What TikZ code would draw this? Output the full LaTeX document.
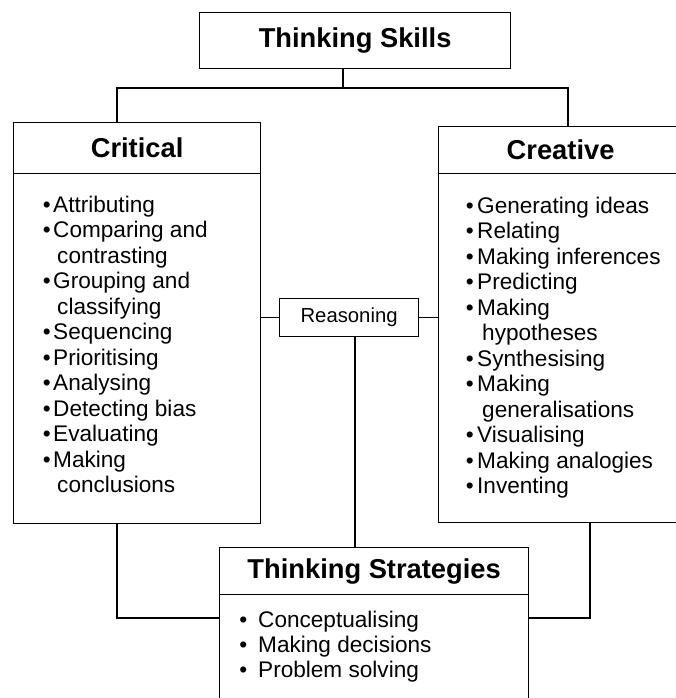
\documentclass[tikz,border=0pt]{standalone}
\usepackage{fontspec}
\setmainfont{Liberation Sans}
\begin{document}
\begin{tikzpicture}[x=1pt,y=-1pt,
  box/.style={draw=black, line width=1.2pt, inner sep=0pt, anchor=north west},
  conn/.style={draw=black, line width=1.2pt},
  ttl/.style={font=\fontsize{27.3}{31}\selectfont\bfseries},
  itm/.style={font=\fontsize{22.6}{25}\selectfont, inner sep=0pt, anchor=base west},
  rsn/.style={font=\fontsize{20.3}{23}\selectfont}
]
\useasboundingbox (0,0) rectangle (675,698);
% boxes
\node[box, ttl, minimum width=311pt, minimum height=56pt] (ts) at (199,12) {Thinking Skills};
\node[box, ttl, minimum width=247pt, minimum height=51pt] (crithead) at (13,122) {Critical};
\node[box, minimum width=247pt, minimum height=350pt] (critbody) at (13,173) {};
\node[box, ttl, minimum width=244pt, minimum height=47pt] (crehead) at (438,126) {Creative};
\node[box, minimum width=244pt, minimum height=349pt] (crebody) at (438,173) {};
\node[box, rsn, minimum width=139pt, minimum height=38pt] (reason) at (279,298) {Reasoning};
\node[box, ttl, minimum width=309pt, minimum height=47pt] (strathead) at (219,547) {Thinking Strategies};
\node[box, minimum width=309pt, minimum height=111pt] (stratbody) at (219,594) {};
% helper coordinates
\coordinate (jt) at (343,88);
\coordinate (xL) at (117,0);
\coordinate (xR) at (568,0);
\coordinate (xM) at (355,0);
\coordinate (xR2) at (590,0);
\coordinate (yb) at (0,618);
% connectors
\draw[conn] (ts.south -| jt) -- (jt) -| (xL |- crithead.north);
\draw[conn] (jt) -| (xR |- crehead.north);
\draw[conn] (critbody.east |- reason.west) -- (reason.west);
\draw[conn] (reason.east) -- (crebody.west |- reason.east);
\draw[conn] (xM |- reason.south) -- (xM |- strathead.north);
\draw[conn] (xL |- critbody.south) |- (stratbody.west |- yb);
\draw[conn] (xR2 |- crebody.south) |- (stratbody.east |- yb);
% lists
\foreach \b/\t [count=\i] in {1/Attributing,1/Comparing and,0/contrasting,1/Grouping and,0/classifying,1/Sequencing,1/Prioritising,1/Analysing,1/Detecting bias,1/Evaluating,1/Making,0/conclusions}
  \node[itm] (cl\i) at (53,{212+(\i-1)*25.5}) {\ifnum\b=1 \llap{\textbullet\hspace{2.5pt}}\else\hspace{4pt}\fi\t};
\foreach \b/\t [count=\i] in {1/Generating ideas,1/Relating,1/Making inferences,1/Predicting,1/Making,0/hypotheses,1/Synthesising,1/Making,0/generalisations,1/Visualising,1/Making analogies,1/Inventing}
  \node[itm] (rl\i) at (477,{213+(\i-1)*25.5}) {\ifnum\b=1 \llap{\textbullet\hspace{3.5pt}}\else\hspace{5pt}\fi\t};
\foreach \t [count=\i] in {Conceptualising,Making decisions,Problem solving}
  \node[itm] (sl\i) at (258,{627+(\i-1)*25}) {\llap{\textbullet\hspace{11pt}}\t};
\end{tikzpicture}
\end{document}
